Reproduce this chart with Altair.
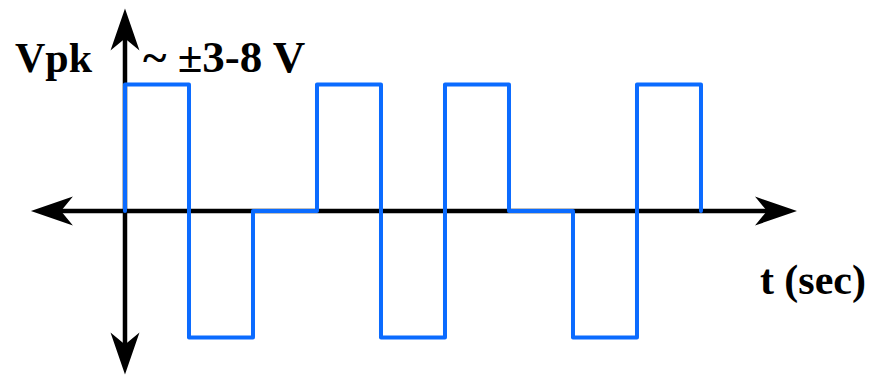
import altair as alt
import pandas as pd

# Square wave (step-after): time and level
wave_t = [0, 0, 1, 2, 3, 4, 5, 6, 7, 8, 9]
wave_v = [0, 1, -1, 0, 1, -1, 1, 0, -1, 1, 0]

# Axis extents (arrow tips)
x_axis_ext = [-1.47, 10.5]
y_axis_ext = [-1.292, 1.601]

# Visible domain
x_domain = [-1.828, 11.594]
y_domain = [-1.296, 1.605]

# Labels
labels_text = ["Vpk", "~ ±3-8 V", "t (sec)"]
labels_t = [-1.719, 0.281, 11.578]
labels_v = [1.099, 1.099, -0.656]
labels_align = ["left", "left", "right"]
labels_size = [42, 45, 42]

W, H = 859, 367
px_t = (x_domain[1] - x_domain[0]) / W
px_v = (y_domain[1] - y_domain[0]) / H
inset = 28

xs = alt.Scale(domain=x_domain, nice=False, zero=False)
ys = alt.Scale(domain=y_domain, nice=False, zero=False)

wave = pd.DataFrame({"t": wave_t, "v": wave_v, "i": range(len(wave_t))})
hax = pd.DataFrame({"t": [x_axis_ext[0] + inset * px_t], "t2": [x_axis_ext[1] - inset * px_t], "v": [0]})
vax = pd.DataFrame({"t": [0], "v": [y_axis_ext[0] + inset * px_v], "v2": [y_axis_ext[1] - inset * px_v]})
arrows = pd.DataFrame({
    "t": [0, x_axis_ext[1], 0, x_axis_ext[0]],
    "v": [y_axis_ext[1], 0, y_axis_ext[0], 0],
    "angle": [0, 90, 180, 270],
})
labels = pd.DataFrame({"text": labels_text, "t": labels_t, "v": labels_v,
                       "align": labels_align, "size": labels_size})

h_rule = alt.Chart(hax).mark_rule(color="black", strokeWidth=4.5).encode(
    x=alt.X("t:Q", scale=xs, axis=None), x2="t2:Q", y=alt.Y("v:Q", scale=ys, axis=None))
v_rule = alt.Chart(vax).mark_rule(color="black", strokeWidth=4.5).encode(
    x=alt.X("t:Q", scale=xs, axis=None), y=alt.Y("v:Q", scale=ys, axis=None), y2="v2:Q")

arrow_path = "M0,0 L0.69,2 L0,1.43 L-0.69,2 Z"
heads = alt.Chart(arrows).mark_point(shape=arrow_path, filled=True, opacity=1, size=1764,
                                     color="black", strokeWidth=0).encode(
    x=alt.X("t:Q", scale=xs, axis=None), y=alt.Y("v:Q", scale=ys, axis=None),
    angle=alt.Angle("angle:Q", scale=None))

line = alt.Chart(wave).mark_line(color="#0b6bff", strokeWidth=4, interpolate="step-after",
                                 strokeCap="round", strokeJoin="round").encode(
    x=alt.X("t:Q", scale=xs, axis=None), y=alt.Y("v:Q", scale=ys, axis=None), order="i:Q")

def lab(a):
    return alt.Chart(labels[labels["align"] == a]).mark_text(
        font="Liberation Serif", fontWeight="bold", align=a,
        baseline="alphabetic", color="black").encode(
        x=alt.X("t:Q", scale=xs, axis=None), y=alt.Y("v:Q", scale=ys, axis=None),
        text="text:N", size=alt.Size("size:Q", scale=None))

chart = alt.layer(h_rule, v_rule, heads, line, lab("left"), lab("right")).properties(
    width=W, height=H, padding=0, autosize=alt.AutoSizeParams(type="none"),
    background="white").configure_view(stroke=None)

chart.save("out.html", embed_options={"renderer": "svg", "actions": False})
